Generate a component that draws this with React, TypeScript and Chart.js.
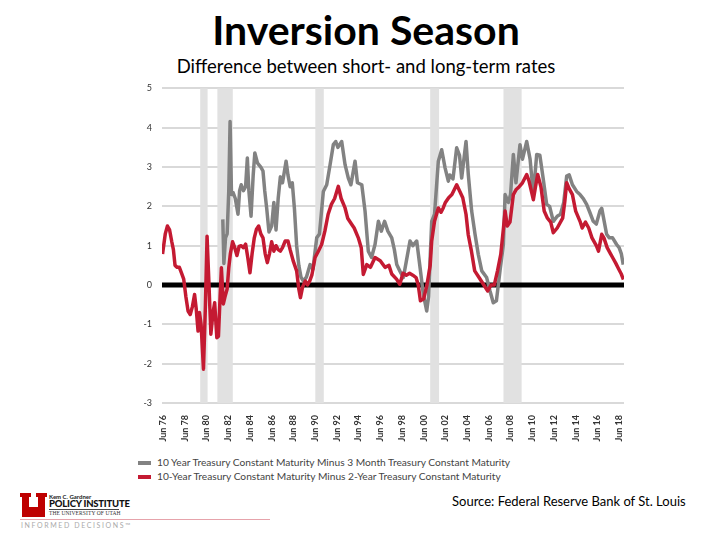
import React, { useEffect, useRef } from "react";
import { Chart, registerables } from "chart.js";

Chart.register(...registerables);

// ---- data (decimal years) ----
const redDates = [
  1976.45, 1976.7, 1976.9, 1977.1, 1977.3, 1977.45, 1977.6, 1977.8, 1978.0, 1978.2,
  1978.4, 1978.6, 1978.8, 1979.0, 1979.2, 1979.4, 1979.55, 1979.72, 1979.85, 1980.0,
  1980.22, 1980.4, 1980.55, 1980.7, 1980.9, 1981.1, 1981.25, 1981.45, 1981.6, 1981.75,
  1981.87, 1982.05, 1982.2, 1982.4, 1982.55, 1982.7, 1982.9, 1983.1, 1983.3, 1983.5,
  1983.7, 1983.9, 1984.1, 1984.3, 1984.5, 1984.7, 1984.9, 1985.1, 1985.3, 1985.5,
  1985.7, 1985.9, 1986.1, 1986.3, 1986.5, 1986.7, 1986.9, 1987.1, 1987.3, 1987.5,
  1987.75, 1988.0, 1988.2, 1988.5, 1988.8, 1989.0, 1989.15, 1989.35, 1989.6, 1989.8,
  1990.0, 1990.2, 1990.5, 1990.8, 1991.1, 1991.4, 1991.7, 1992.0, 1992.3, 1992.64,
  1992.9, 1993.26, 1993.5, 1993.88, 1994.1, 1994.48, 1994.75, 1994.94, 1995.26, 1995.6,
  1996.02, 1996.5, 1996.94, 1997.3, 1997.56, 1998.0, 1998.3, 1998.6, 1998.9, 1999.2,
  1999.5, 1999.8, 2000.0, 2000.2, 2000.5, 2000.8, 2001.1, 2001.24, 2001.5, 2001.85,
  2002.1, 2002.3, 2002.5, 2002.8, 2003.1, 2003.54, 2003.8, 2004.1, 2004.4, 2004.6,
  2004.9, 2005.2, 2005.6, 2006.0, 2006.4, 2006.7, 2007.0, 2007.3, 2007.6, 2007.85,
  2008.0, 2008.2, 2008.45, 2008.76, 2009.0, 2009.3, 2009.6, 2009.99, 2010.2, 2010.6,
  2010.8, 2011.0, 2011.3, 2011.6, 2011.9, 2012.2, 2012.44, 2012.8, 2013.3, 2013.5,
  2013.67, 2013.9, 2014.2, 2014.5, 2014.9, 2015.1, 2015.4, 2015.7, 2016.0, 2016.4,
  2016.6, 2016.9, 2017.1, 2017.4, 2017.7, 2017.9, 2018.2, 2018.4, 2018.7, 2018.9,
];
const redValues = [
  0.79, 1.3, 1.5, 1.4, 1.1, 0.9, 0.5, 0.45, 0.45, 0.3,
  0.15, -0.3, -0.66, -0.75, -0.55, -0.24, -0.6, -1.17, -0.7, -1.0,
  -2.14, -0.5, 1.24, 0.2, -1.25, -0.7, -0.45, -1.34, -1.3, -0.3,
  0.44, -0.48, -0.3, -0.1, 0.44, 0.8, 1.1, 0.95, 0.75, 0.98,
  1.0, 0.95, 1.04, 0.7, 0.31, 0.8, 1.2, 1.42, 1.5, 1.3,
  1.2, 0.8, 0.57, 0.8, 1.1, 0.86, 1.0, 0.9, 0.86, 0.95,
  1.12, 1.12, 0.9, 0.6, 0.36, -0.1, -0.32, -0.05, 0.1, 0.0,
  0.1, 0.25, 0.7, 0.86, 1.03, 1.37, 1.8, 2.05, 2.2, 2.51,
  2.2, 1.96, 1.7, 1.54, 1.45, 1.2, 0.95, 0.27, 0.52, 0.45,
  0.7, 0.62, 0.45, 0.5, 0.28, 0.15, 0.02, 0.3, 0.25, 0.3,
  0.25, 0.19, 0.0, -0.4, -0.35, 0.0, 0.5, 1.12, 1.62, 1.96,
  1.85, 1.96, 2.1, 2.22, 2.3, 2.55, 2.4, 2.22, 1.8, 1.29,
  0.86, 0.36, 0.19, 0.02, -0.15, 0.0, 0.0, 0.36, 0.78, 1.45,
  1.88, 1.5, 1.6, 2.3, 2.42, 2.5, 2.6, 2.81, 2.65, 2.17,
  2.5, 2.81, 2.5, 1.88, 1.7, 1.6, 1.33, 1.45, 1.7, 2.13,
  2.6, 2.45, 2.3, 1.88, 1.62, 1.45, 1.6, 1.45, 1.2, 1.0,
  0.86, 1.29, 1.2, 0.95, 0.8, 0.7, 0.55, 0.44, 0.28, 0.14,
];

const grayDates = [
  1982.0, 1982.1, 1982.25, 1982.4, 1982.55, 1982.67, 1982.8, 1982.95, 1983.15, 1983.4,
  1983.55, 1983.7, 1983.9, 1984.1, 1984.26, 1984.4, 1984.6, 1984.8, 1984.95, 1985.2,
  1985.5, 1985.7, 1985.86, 1986.05, 1986.25, 1986.5, 1986.7, 1986.9, 1987.1, 1987.3,
  1987.5, 1987.83, 1988.0, 1988.2, 1988.4, 1988.6, 1988.8, 1989.0, 1989.2, 1989.42,
  1989.7, 1990.04, 1990.3, 1990.65, 1990.9, 1991.26, 1991.57, 1991.88, 1992.18, 1992.4,
  1992.6, 1992.95, 1993.26, 1993.56, 1993.8, 1994.18, 1994.4, 1994.8, 1995.1, 1995.4,
  1995.7, 1996.02, 1996.33, 1996.6, 1996.9, 1997.2, 1997.56, 1997.8, 1998.02, 1998.3,
  1998.63, 1998.9, 1999.24, 1999.5, 1999.86, 2000.17, 2000.47, 2000.78, 2000.95, 2001.24,
  2001.5, 2001.85, 2002.16, 2002.47, 2002.77, 2002.9, 2003.2, 2003.54, 2003.8, 2004.0,
  2004.4, 2004.61, 2004.92, 2005.23, 2005.53, 2005.85, 2006.3, 2006.61, 2006.91, 2007.2,
  2007.53, 2007.84, 2008.0, 2008.3, 2008.5, 2008.76, 2009.0, 2009.37, 2009.6, 2009.99,
  2010.3, 2010.6, 2010.91, 2011.2, 2011.5, 2011.83, 2012.1, 2012.44, 2012.8, 2013.1,
  2013.4, 2013.67, 2013.9, 2014.2, 2014.59, 2014.9, 2015.2, 2015.51, 2015.8, 2016.12,
  2016.4, 2016.73, 2016.9, 2017.35, 2017.6, 2017.9, 2018.27, 2018.5, 2018.7, 2018.88,
];
const grayValues = [
  1.67, 0.55, 1.2, 1.3, 2.4, 4.16, 2.3, 2.35, 2.2, 1.8,
  2.4, 2.55, 2.4, 2.5, 3.23, 2.4, 1.75, 2.8, 3.36, 3.1,
  3.0, 2.9, 2.4, 1.93, 1.35, 1.5, 2.1, 1.4, 2.2, 2.75,
  2.6, 3.15, 2.8, 2.5, 2.6, 1.93, 1.0, 0.5, 0.2, 0.1,
  0.2, 0.52, 0.4, 1.2, 1.3, 2.38, 2.55, 3.06, 3.57, 3.65,
  3.5, 3.65, 3.06, 2.72, 2.55, 3.15, 2.6, 2.55, 1.88, 0.86,
  0.7, 1.03, 1.62, 1.37, 1.62, 1.37, 1.2, 0.9, 0.52, 0.36,
  0.19, 0.6, 1.12, 1.0, 1.12, 0.44, -0.24, -0.66, -0.3, 1.62,
  1.8, 3.15, 3.44, 2.98, 2.64, 2.8, 2.7, 3.49, 3.3, 2.72,
  3.65, 2.81, 1.88, 1.29, 0.78, 0.36, 0.19, -0.15, -0.45, -0.4,
  0.36, 1.03, 2.3, 2.1, 2.3, 3.32, 2.6, 3.57, 3.2, 3.65,
  3.2, 2.3, 3.32, 3.3, 2.72, 2.05, 2.0, 1.62, 1.75, 1.8,
  2.1, 2.77, 2.8, 2.55, 2.38, 2.3, 2.2, 2.05, 1.85, 1.62,
  1.55, 1.88, 1.95, 1.29, 1.2, 1.2, 1.03, 0.95, 0.8, 0.52,
];

const recessionStarts = [1979.92, 1981.5, 1990.52, 2001.1, 2007.85];
const recessionEnds = [1980.6, 1982.92, 1991.3, 2001.92, 2009.52];

const xTickYears = [
  1976.5, 1978.5, 1980.5, 1982.5, 1984.5, 1986.5, 1988.5, 1990.5, 1992.5, 1994.5, 1996.5,
  1998.5, 2000.5, 2002.5, 2004.5, 2006.5, 2008.5, 2010.5, 2012.5, 2014.5, 2016.5, 2018.5,
];
const xTickLabels = [
  "Jun 76", "Jun 78", "Jun 80", "Jun 82", "Jun 84", "Jun 86", "Jun 88", "Jun 90", "Jun 92",
  "Jun 94", "Jun 96", "Jun 98", "Jun 00", "Jun 02", "Jun 04", "Jun 06", "Jun 08", "Jun 10",
  "Jun 12", "Jun 14", "Jun 16", "Jun 18",
];

const seriesNames = [
  "10 Year Treasury Constant Maturity Minus 3 Month Treasury Constant Maturity",
  "10-Year Treasury Constant Maturity Minus 2-Year Treasury Constant Maturity",
];

const GRAY = "#828282";
const RED = "#c41a32";

const bandsPlugin = {
  id: "recessionBands",
  beforeDatasetsDraw(chart: any) {
    const { ctx, chartArea, scales } = chart;
    const xs = scales.x;
    const ys = scales.y;
    ctx.save();
    ctx.fillStyle = "#e1e1e1";
    for (let i = 0; i < recessionStarts.length; i++) {
      const x0 = xs.getPixelForValue(recessionStarts[i]);
      const x1 = xs.getPixelForValue(recessionEnds[i]);
      ctx.fillRect(x0, chartArea.top, x1 - x0, chartArea.bottom - chartArea.top);
    }
    const y0 = ys.getPixelForValue(0);
    ctx.strokeStyle = "#000";
    ctx.lineWidth = 5;
    ctx.beginPath();
    ctx.moveTo(chartArea.left, y0);
    ctx.lineTo(chartArea.right, y0);
    ctx.stroke();
    ctx.restore();
  },
};

function ChartCanvas() {
  const ref = useRef<HTMLCanvasElement | null>(null);
  useEffect(() => {
    if (!ref.current) return;
    const chart = new Chart(ref.current, {
      type: "line",
      data: {
        datasets: [
          {
            label: seriesNames[1],
            data: redDates.map((d, i) => ({ x: d, y: redValues[i] })),
            borderColor: RED,
            backgroundColor: RED,
            borderWidth: 3.5,
            pointRadius: 0,
            tension: 0,
            borderJoinStyle: "round",
          },
          {
            label: seriesNames[0],
            data: grayDates.map((d, i) => ({ x: d, y: grayValues[i] })),
            borderColor: GRAY,
            backgroundColor: GRAY,
            borderWidth: 3.5,
            pointRadius: 0,
            tension: 0,
            borderJoinStyle: "round",
          },
        ],
      },
      options: {
        responsive: false,
        animation: false,
        events: [],
        layout: { padding: { top: 4, right: 16, left: 0, bottom: 0 } },
        plugins: {
          legend: { display: false },
          tooltip: { enabled: false },
          title: { display: false },
        },
        scales: {
          x: {
            type: "linear",
            min: 1976.4,
            max: 2018.95,
            grid: { display: false },
            border: { display: false },
            afterBuildTicks: (s: any) => {
              s.ticks = xTickYears.map((v) => ({ value: v }));
            },
            afterFit: (s: any) => {
              s.height = 45;
            },
            ticks: {
              autoSkip: false,
              minRotation: 90,
              maxRotation: 90,
              padding: 4,
              color: "#333",
              font: { family: "Lato", size: 9, weight: "bold" },
              callback: (_v: any, i: number) => xTickLabels[i],
            },
          },
          y: {
            min: -3,
            max: 5,
            grid: {
              color: (c: any) => (c.tick && c.tick.value === 0 ? "rgba(0,0,0,0)" : "#d9d9d9"),
              lineWidth: 2,
              drawTicks: false,
            },
            border: { display: false },
            afterFit: (s: any) => {
              s.width = 42;
            },
            ticks: {
              stepSize: 1,
              padding: 10,
              color: "#333",
              font: { family: "Lato", size: 9 },
            },
          },
        },
      },
      plugins: [bandsPlugin],
    } as any);
    return () => chart.destroy();
  }, []);
  return (
    <canvas
      ref={ref}
      width={520}
      height={375}
      style={{ position: "absolute", left: 120, top: 73, width: 520, height: 375 }}
    />
  );
}

export default function App() {
  return (
    <div
      style={{
        position: "absolute",
        left: 0,
        top: 0,
        width: 720,
        height: 540,
        background: "#fff",
        overflow: "hidden",
        fontFamily: "Lato, sans-serif",
      }}
    >
      <div
        style={{
          position: "absolute",
          left: 6,
          top: 8,
          width: 720,
          textAlign: "center",
          fontSize: 41,
          fontWeight: 700,
          lineHeight: "44px",
          color: "#000",
        }}
      >
        Inversion Season
      </div>
      <div
        style={{
          position: "absolute",
          left: 6,
          top: 55,
          width: 720,
          textAlign: "center",
          fontSize: 18.5,
          lineHeight: "22px",
          color: "#000",
        }}
      >
        Difference between short- and long-term rates
      </div>

      <ChartCanvas />

      {/* legend */}
      {[GRAY, RED].map((c, i) => (
        <div key={i}>
          <div
            style={{
              position: "absolute",
              left: 138,
              top: 461 + i * 14,
              width: 13,
              height: 4,
              background: c,
            }}
          />
          <div
            style={{
              position: "absolute",
              left: 157,
              top: 455 + i * 14,
              fontSize: 10.2,
              lineHeight: "14px",
              color: "#444",
              whiteSpace: "nowrap",
            }}
          >
            {seriesNames[i]}
          </div>
        </div>
      ))}

      {/* logo */}
      <svg
        style={{ position: "absolute", left: 20, top: 493 }}
        width={27}
        height={24}
        viewBox="0 0 27 24"
      >
        <path d="M0 0 H11 V4 H9 V14 H18 V4 H16 V0 H27 V4 H25 V24 H2 V4 H0 Z" fill="#be0000" />
      </svg>
      <div style={{ position: "absolute", left: 49, top: 493, fontSize: 6, fontWeight: 700, color: "#222", lineHeight: "7px" }}>
        Kem C. Gardner
      </div>
      <div style={{ position: "absolute", left: 49, top: 499, fontSize: 9.5, fontWeight: 900, color: "#111", lineHeight: "10px", letterSpacing: -0.2 }}>
        POLICY INSTITUTE
      </div>
      <div
        style={{ position: "absolute", left: 49, top: 509, width: 70, height: 1, background: "#444" }}
      />
      <div style={{ position: "absolute", left: 49, top: 510, fontSize: 5.5, fontFamily: "'Liberation Serif', serif", color: "#333", lineHeight: "7px", letterSpacing: 0.1 }}>
        THE UNIVERSITY OF UTAH
      </div>
      <div style={{ position: "absolute", left: 20, top: 519, width: 250, height: 1, background: "#e6a3ab" }} />
      <div style={{ position: "absolute", left: 21, top: 521, fontSize: 7, color: "#aaa", lineHeight: "9px", letterSpacing: 1.6 }}>
        INFORMED DECISIONS™
      </div>

      {/* source */}
      <div
        style={{
          position: "absolute",
          left: 452,
          top: 493,
          fontSize: 13,
          lineHeight: "16px",
          color: "#000",
          whiteSpace: "nowrap",
        }}
      >
        Source:  Federal Reserve Bank of St. Louis
      </div>
    </div>
  );
}
